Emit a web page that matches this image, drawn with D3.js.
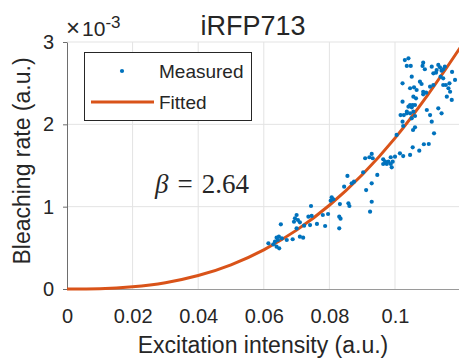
<!DOCTYPE html>
<meta charset="utf-8">
<html>
<head>
  <title>iRFP713 bleaching rate</title>
  <style>
    body { margin: 0; background: #fff; }
    text { font-family: "Liberation Sans", Arial, sans-serif; fill: #262626; }
  </style>
</head>
<body>
  <svg id="my_dataviz" width="459" height="358"></svg>

  <script src="https://d3js.org/d3.v7.min.js"></script>
  <script>

    // Measured points: excitation intensity (a.u.) and bleaching rate (x 10^-3 a.u.)
    var measuredX = [
      0.0614, 0.0629, 0.0634, 0.0639, 0.0646, 0.0655, 0.0643, 0.0639, 0.0647, 0.0652,
      0.0670, 0.0688, 0.0700, 0.0695, 0.0704, 0.0692, 0.0710, 0.0700, 0.0710, 0.0720,
      0.0723, 0.0736, 0.0741, 0.0744, 0.0762, 0.0787, 0.0780, 0.0796, 0.0746, 0.0807,
      0.0812, 0.0804, 0.0832, 0.0858, 0.0861, 0.0830, 0.0834, 0.0830, 0.0845, 0.0855,
      0.0868, 0.0875, 0.0912, 0.0903, 0.0929, 0.0929, 0.0924, 0.0909, 0.0922, 0.0929,
      0.0932, 0.0946, 0.0964, 0.0970, 0.0964, 0.0975, 0.0980, 0.0987, 0.0990, 0.0993,
      0.0987, 0.1000, 0.1015, 0.1025, 0.1046, 0.1054, 0.1074, 0.1005, 0.1055, 0.1119,
      0.1088, 0.1103, 0.1025, 0.1061, 0.1017, 0.1036, 0.1056, 0.1061, 0.1041, 0.1054,
      0.1023, 0.1056, 0.1064, 0.1030, 0.1041, 0.1036, 0.1048, 0.1086, 0.1084, 0.1091,
      0.1112, 0.1132, 0.1137, 0.1127, 0.1125, 0.1117, 0.1142, 0.1147, 0.1152, 0.1051,
      0.1023, 0.1076, 0.1081, 0.1139, 0.1147, 0.1166, 0.1155, 0.1163, 0.1147, 0.1046,
      0.1058, 0.1066, 0.1086, 0.1095, 0.1086, 0.1107, 0.1117, 0.1168, 0.1158, 0.1173,
      0.1046, 0.1061, 0.1051, 0.1036, 0.1046, 0.1097, 0.1132, 0.1142, 0.1107, 0.1027,
      0.1023, 0.1051, 0.1112, 0.1174, 0.1183
    ]
    var measuredY = [
      0.555, 0.543, 0.575, 0.623, 0.635, 0.616, 0.595, 0.514, 0.494, 0.786,
      0.595, 0.604, 0.899, 0.859, 0.838, 0.817, 0.810, 0.737, 0.635, 0.623,
      0.769, 0.878, 0.777, 1.008, 0.790, 0.765, 0.899, 0.911, 0.887, 1.114,
      1.090, 1.073, 1.032, 1.041, 1.008, 0.878, 0.854, 0.737, 1.243, 1.373,
      1.284, 1.303, 1.202, 1.417, 1.284, 1.060, 0.939, 1.588, 1.600, 1.640,
      1.588, 1.385, 1.575, 1.546, 1.518, 1.518, 1.546, 1.518, 1.478, 1.546,
      1.600, 1.607, 1.648, 1.615, 1.628, 1.721, 1.680, 1.871, 1.931, 1.891,
      1.758, 1.761, 1.980, 1.964, 2.113, 2.134, 2.154, 2.101, 2.214, 2.235,
      2.275, 2.336, 2.316, 2.781, 2.802, 2.709, 2.709, 2.749, 2.709, 2.669,
      2.700, 2.721, 2.693, 2.660, 2.627, 2.620, 2.652, 2.669, 2.700, 2.579,
      2.498, 2.518, 2.490, 2.579, 2.559, 2.498, 2.478, 2.438, 2.478, 2.438,
      2.450, 2.417, 2.396, 2.384, 2.365, 2.457, 2.478, 2.396, 2.336, 2.296,
      2.235, 2.235, 2.207, 2.154, 2.134, 2.174, 2.195, 2.134, 2.113, 2.113,
      2.032, 2.073, 2.032, 2.636, 2.539
    ]

    // Fitted power law (beta = 2.64)
    var fitX = [0, 0.01, 0.02, 0.03, 0.04, 0.05, 0.06, 0.07, 0.08, 0.09, 0.10, 0.11, 0.12]
    var fitY = [0, 0.0042, 0.0261, 0.0763, 0.1631, 0.2938, 0.476, 0.715, 1.017, 1.388, 1.833, 2.359, 2.940]

    var xTicks = [0, 0.02, 0.04, 0.06, 0.08, 0.1]
    var xTickLabels = ["0", "0.02", "0.04", "0.06", "0.08", "0.1"]
    var yTicks = [0, 1, 2, 3]
    var yTickLabels = ["0", "1", "2", "3"]

    var svg = d3.select("svg")

    var x = d3.scaleLinear().domain([0, 0.12]).range([67, 460.6])
    var y = d3.scaleLinear().domain([0, 3]).range([289, 42])

    // grid
    svg.append("g")
      .selectAll("line")
      .data(xTicks.slice(1))
      .enter()
      .append("line")
      .attr("x1", function (d) { return x(d) })
      .attr("x2", function (d) { return x(d) })
      .attr("y1", y(0))
      .attr("y2", y(3))
      .attr("stroke", "#e3e3e3")
      .attr("stroke-width", 1)
    svg.append("g")
      .selectAll("line")
      .data(yTicks.slice(1))
      .enter()
      .append("line")
      .attr("x1", x(0))
      .attr("x2", 459)
      .attr("y1", function (d) { return y(d) })
      .attr("y2", function (d) { return y(d) })
      .attr("stroke", "#e3e3e3")
      .attr("stroke-width", 1)

    // axes
    var xAxis = svg.append("g")
      .attr("transform", "translate(0," + y(0) + ")")
      .call(d3.axisBottom(x).tickValues(xTicks).tickSize(0).tickFormat(function (d, i) { return xTickLabels[i] }))
    xAxis.select(".domain").attr("stroke", "#9a9a9a")
    xAxis.selectAll("text")
      .attr("dy", null)
      .attr("y", 34)
      .style("font-size", "20px")
      .style("font-family", "'Liberation Sans', Arial, sans-serif")
      .attr("fill", "#262626")

    var yAxis = svg.append("g")
      .attr("transform", "translate(" + x(0) + ",0)")
      .call(d3.axisLeft(y).tickValues(yTicks).tickSize(4).tickSizeOuter(0).tickFormat(function (d, i) { return yTickLabels[i] }))
    yAxis.select(".domain").attr("stroke", "#6e6e6e")
    yAxis.selectAll(".tick line").attr("stroke", "#6e6e6e")
    yAxis.selectAll("text")
      .attr("x", -13)
      .style("font-size", "20px")
      .style("font-family", "'Liberation Sans', Arial, sans-serif")
      .attr("fill", "#262626")

    // fitted curve
    var line = d3.line()
      .x(function (d) { return x(d[0]) })
      .y(function (d) { return y(d[1]) })
      .curve(d3.curveMonotoneX)
    svg.append("path")
      .datum(fitX.map(function (d, i) { return [d, fitY[i]] }))
      .attr("d", line)
      .attr("fill", "none")
      .attr("stroke", "#D95319")
      .attr("stroke-width", 3)

    // measured points
    svg.append("g")
      .selectAll("circle")
      .data(measuredX.map(function (d, i) { return [d, measuredY[i]] }))
      .enter()
      .append("circle")
      .attr("cx", function (d) { return x(d[0]) })
      .attr("cy", function (d) { return y(d[1]) })
      .attr("r", 2.1)
      .style("fill", "#0072BD")

    // title and exponent
    svg.append("text")
      .attr("x", 253)
      .attr("y", 35)
      .attr("text-anchor", "middle")
      .style("font-size", "27px")
      .text("iRFP713")
    var expo = svg.append("text")
      .attr("x", 66)
      .attr("y", 36)
      .style("font-size", "21px")
    expo.append("tspan").style("font-size", "24px").text("×")
    expo.append("tspan").attr("dx", 2).text("10")
    expo.append("tspan").attr("dy", -8).style("font-size", "17px").text("-3")

    // axis labels
    svg.append("text")
      .attr("x", 263)
      .attr("y", 353)
      .attr("text-anchor", "middle")
      .style("font-size", "23px")
      .text("Excitation intensity (a.u.)")
    svg.append("text")
      .attr("transform", "translate(30,161) rotate(-90)")
      .attr("text-anchor", "middle")
      .style("font-size", "23px")
      .text("Bleaching rate (a.u.)")

    // beta annotation
    var beta = svg.append("text")
      .attr("x", 155)
      .attr("y", 193)
      .style("font-family", "'Liberation Serif', 'Times New Roman', serif")
      .style("font-size", "27px")
    beta.append("tspan").style("font-style", "italic").text("β")
    beta.append("tspan").attr("dx", 9).text("=")
    beta.append("tspan").attr("dx", 9).text("2.64")

    // legend
    svg.append("rect")
      .attr("x", 84.5)
      .attr("y", 52.5)
      .attr("width", 167)
      .attr("height", 68)
      .attr("fill", "#fff")
      .attr("stroke", "#262626")
      .attr("stroke-width", 1)
    svg.append("circle")
      .attr("cx", 122)
      .attr("cy", 71)
      .attr("r", 2.1)
      .style("fill", "#0072BD")
    svg.append("line")
      .attr("x1", 91)
      .attr("x2", 154)
      .attr("y1", 102)
      .attr("y2", 102)
      .attr("stroke", "#D95319")
      .attr("stroke-width", 3)
    svg.append("text")
      .attr("x", 159)
      .attr("y", 78)
      .style("font-size", "19px")
      .text("Measured")
    svg.append("text")
      .attr("x", 159)
      .attr("y", 109)
      .style("font-size", "19px")
      .text("Fitted")

  </script>
</body>
</html>
